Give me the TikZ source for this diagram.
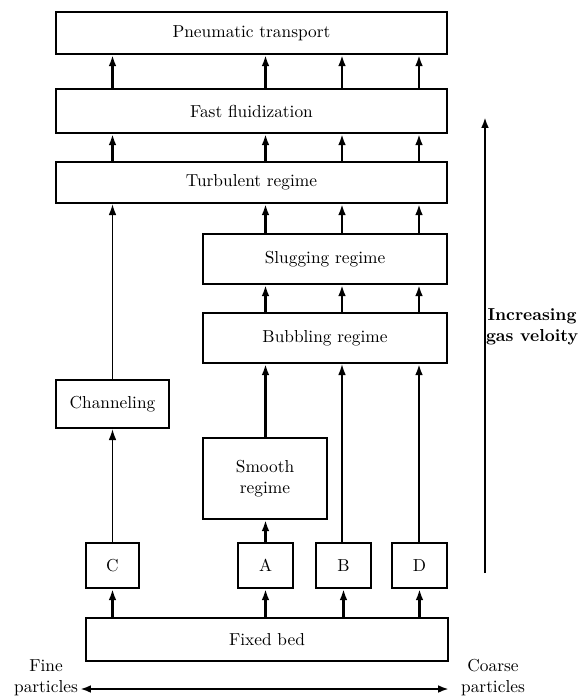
\documentclass[tikz,border=0pt]{standalone}
\usetikzlibrary{arrows.meta}
\begin{document}
\begin{tikzpicture}[x=0.6pt,y=-0.6pt,
  txt/.style={font=\fontsize{10.4}{12.6}\selectfont},
  box/.style={draw, line width=1.4pt, inner sep=0pt, align=center, txt},
  arr/.style={line width=1.4pt, -{Latex[length=6.5pt,width=4.6pt]}},
  thinarr/.style={line width=0.9pt, -{Latex[length=6.5pt,width=4.6pt]}},
  lbl/.style={align=center, inner sep=0pt}]
\useasboundingbox (0,0) rectangle (581,699);
% columns
\coordinate (cC) at (112.5,0);
\coordinate (cA) at (265.5,0);
\coordinate (cB) at (342,0);
\coordinate (cD) at (419,0);
% boxes
\node[box, minimum width=234.6pt, minimum height=25.2pt] (pneu) at (251.5,33) {Pneumatic transport};
\node[box, minimum width=234.6pt, minimum height=26.4pt] (fast) at (251.5,111) {Fast fluidization};
\node[box, minimum width=234.6pt, minimum height=24.6pt] (turb) at (251.5,182.5) {Turbulent regime};
\node[box, minimum width=146.4pt, minimum height=30pt] (slug) at (325,259) {Slugging regime};
\node[box, minimum width=146.4pt, minimum height=30pt] (bubb) at (325,338) {Bubbling regime};
\node[box, minimum width=67.8pt, minimum height=28.8pt] (chan) at (112.5,404) {Channeling};
\node[box, minimum width=74.4pt, minimum height=48.6pt] (smooth) at (265,478.5) {Smooth\\regime};
\node[box, minimum width=31.8pt, minimum height=27pt] (C) at (112.5,565.5) {C};
\node[box, minimum width=33pt, minimum height=27pt] (A) at (265.5,565.5) {A};
\node[box, minimum width=33pt, minimum height=27pt] (B) at (343.5,565.5) {B};
\node[box, minimum width=33pt, minimum height=27pt] (D) at (419.5,565.5) {D};
\node[box, minimum width=217.2pt, minimum height=25.8pt] (fixed) at (267,639.5) {Fixed bed};
% fixed bed to particle classes
\foreach \n in {C,A,B,D}{
  \draw[arr] (fixed.north -| \n.south) -- (\n.south);
}
% class to next regime
\draw[thinarr] (C.north) -- (chan.south);
\draw[arr] (A.north) -- (smooth.south -| A.north);
\draw[arr] (smooth.north -| A.north) -- (bubb.south -| A.north);
\draw[thinarr] (B.north -| cB) -- (bubb.south -| cB);
\draw[arr] (D.north -| cD) -- (bubb.south -| cD);
\draw[thinarr] (chan.north) -- (turb.south -| chan.north);
% bubbling to slugging, slugging to turbulent
\foreach \c in {cA,cB,cD}{
  \draw[arr] (bubb.north -| \c) -- (slug.south -| \c);
  \draw[arr] (slug.north -| \c) -- (turb.south -| \c);
}
% turbulent to fast, fast to pneumatic
\foreach \c in {cC,cA,cB,cD}{
  \draw[arr] (turb.north -| \c) -- (fast.south -| \c);
  \draw[arr] (fast.north -| \c) -- (pneu.south -| \c);
}
% increasing gas velocity
\coordinate (vlo) at (485,573);
\coordinate (vhi) at (485,117);
\draw[arr] (vlo) -- (vhi);
\node[lbl, txt, font=\fontsize{10.4}{12.6}\selectfont\bfseries] (gas) at (532,327) {Increasing\\gas veloity};
% particle size
\node[lbl, txt] (fine) at (46,678) {Fine\\particles};
\node[lbl, txt] (coarse) at (493,678) {Coarse\\particles};
\coordinate (pl) at (80,689);
\coordinate (pr) at (449,689);
\draw[line width=1.4pt, {Latex[length=6.5pt,width=4.6pt]}-{Latex[length=6.5pt,width=4.6pt]}] (pl) -- (pr);
\end{tikzpicture}
\end{document}
